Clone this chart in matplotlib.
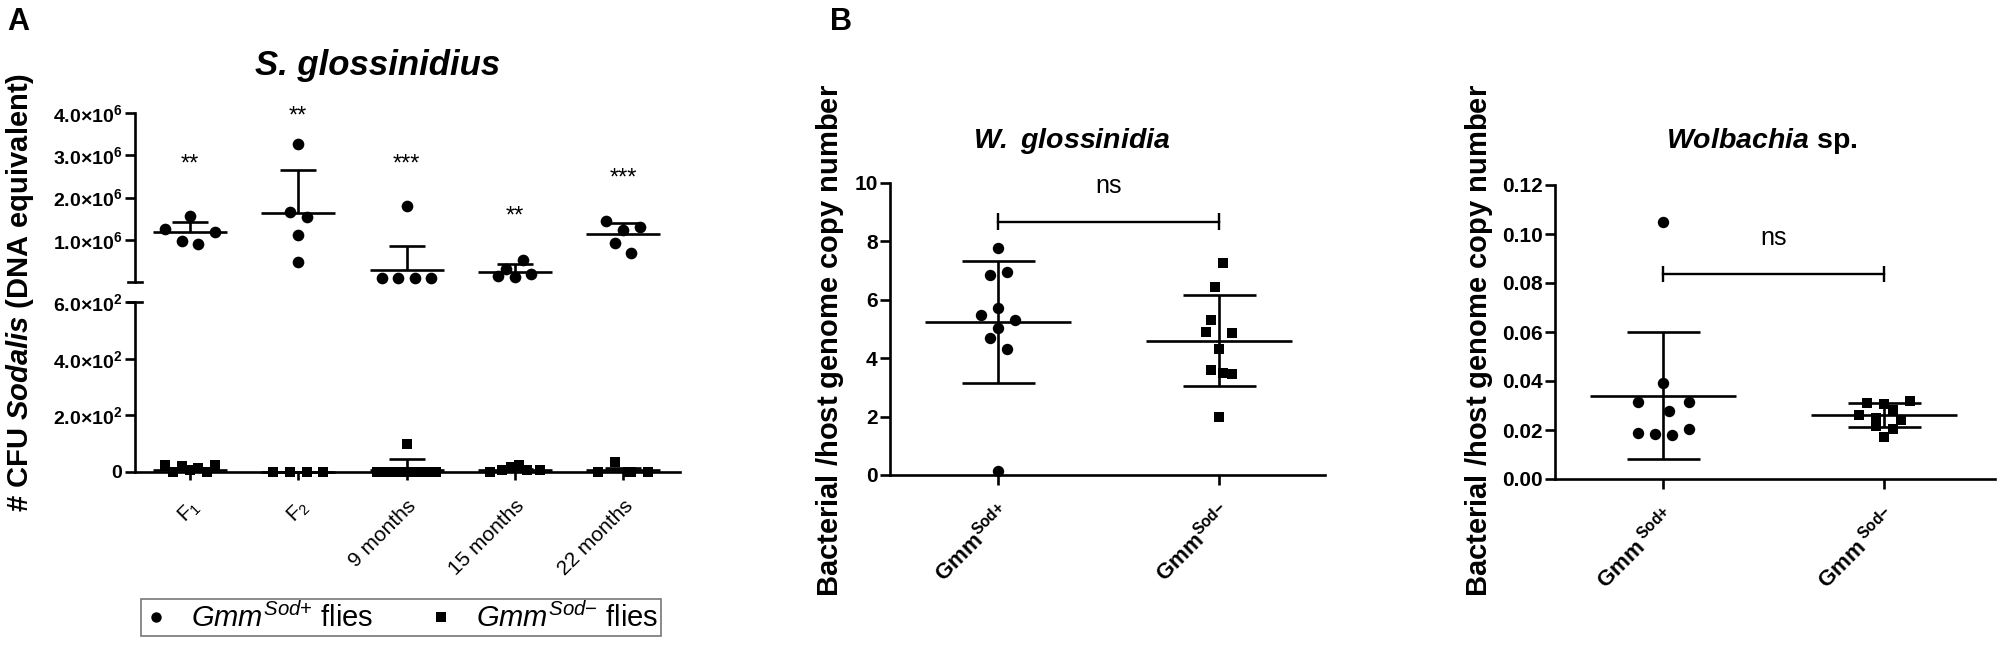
import numpy as np
import matplotlib
matplotlib.use('Agg')
import matplotlib.pyplot as plt
from matplotlib.lines import Line2D

plt.rcParams['font.family'] = ['Liberation Sans', 'DejaVu Sans']
plt.rcParams['mathtext.fontset'] = 'custom'
plt.rcParams['mathtext.rm'] = 'Liberation Sans'
plt.rcParams['mathtext.it'] = 'Liberation Sans:italic'
plt.rcParams['mathtext.bf'] = 'Liberation Sans:bold'
plt.rcParams['mathtext.bfit'] = 'Liberation Sans:italic:bold'
plt.rcParams['mathtext.sf'] = 'Liberation Sans'

# ---------------- data: panel A (S. glossinidius CFU) ----------------
timepoints = ['F$_1$', 'F$_2$', '9 months', '15 months', '22 months']
# Gmm Sod+ (x 10^6)
sodpos_cfu = [[1.56, 1.26, 1.18, 0.97, 0.90],
              [3.27, 1.66, 1.54, 1.11, 0.47],
              [1.81, 0.09, 0.09, 0.09, 0.09],
              [0.52, 0.31, 0.19, 0.14, 0.12],
              [1.45, 1.30, 1.23, 0.92, 0.69]]
sodpos_mean = [1.18, 1.63, 0.28, 0.24, 1.14]
sodpos_sem_top = [1.42, 2.65, 0.85, 0.43, 1.40]
# Gmm Sod- (CFU)
sodneg_cfu = [[26, 0, 20, 8, 15, 0, 26],
              [0, 0, 0, 0],
              [100, 0, 0, 0, 0, 0, 0, 0, 0],
              [0, 8, 19, 24, 8, 8],
              [0, 0, 37, 0, 0]]
sodneg_mean = [8, 0, 8, 6, 7]
sodneg_sem_top = [12, 0, 47, 11, 15]
stars = ['**', '**', '***', '**', '***']
stars_y = [2.94, 4.08, 2.96, 1.71, 2.61]   # x 10^6

# ---------------- data: panel B ----------------
b_groups = ['Sod+', 'Sod-']
wg_sodpos = [7.79, 6.96, 6.86, 5.73, 5.49, 5.32, 5.04, 4.70, 4.32, 0.15]
wg_sodneg = [7.25, 6.45, 5.30, 4.90, 4.85, 4.30, 3.60, 3.50, 3.45, 2.00]
wg_mean = [5.25, 4.60]
wg_sd = [2.09, 1.55]
wg_bracket_y = 8.68
wg_ns_y = 9.9

wb_sodpos = [0.105, 0.039, 0.0316, 0.0314, 0.0279, 0.0203, 0.0187, 0.0182, 0.0180]
wb_sodneg = [0.032, 0.031, 0.0305, 0.028, 0.026, 0.025, 0.024, 0.0215, 0.0205, 0.017]
wb_mean = [0.0339, 0.0261]
wb_sd = [0.0259, 0.0049]
wb_bracket_y = 0.0837
wb_ns_y = 0.0984

# ---------------- layout (jitter in marker-step units) ----------------
off_pos_A = [[0, -3, 3, -1, 1], [0, -1, 1, 0, 0], [0, -3, -1, 1, 3],
             [1, -1, 2, -2, 0], [-2, 2, 0, -1, 1]]
off_neg_A = [[-3, -2, -1, 0, 1, 2, 3], [-3, -1, 1, 3], [0, -3.5, -2.5, -1.5, -0.5, 0.5, 1.5, 2.5, 3.5],
             [-3, -1.5, -0.5, 0.5, 1.5, 3], [0.6, -3, -1, 1, 3]]
off_wg_pos = [0, 1, -1, 0, -2, 2, 0, -1, 1, 0]
off_wg_neg = [0.5, -0.5, -1, -1.5, 1.5, 0, -1, 0.5, 1.5, 0]
off_wb_pos = [0, 0, -3, 3, 0.7, 3, -3, -1, 1]
off_wb_neg = [3, -2, 0, 1, -3, -1, 2, -1, 1, 0]

W, H = 2001, 645
fig = plt.figure(figsize=(W / 100, H / 100), dpi=100)


def rect(x0, x1, ytop, ybot):
    return [x0 / W, 1 - ybot / H, (x1 - x0) / W, (ybot - ytop) / H]


LW = 1.9
K = 'black'


def style_axis(ax, left=True, bottom=False):
    for s in ['top', 'right']:
        ax.spines[s].set_visible(False)
    ax.spines['left'].set_visible(left)
    ax.spines['bottom'].set_visible(bottom)
    for s in ['left', 'bottom']:
        ax.spines[s].set_linewidth(LW)
    ax.tick_params(width=LW, length=7, color=K, direction='out')
    ax.patch.set_alpha(0)


def mean_err(ax, x, mean, top, bottom, hw_mean, hw_cap):
    ax.hlines(mean, x - hw_mean, x + hw_mean, color=K, lw=LW, clip_on=False, zorder=4)
    ax.vlines(x, bottom, top, color=K, lw=LW, clip_on=False, zorder=4)
    ax.hlines(top, x - hw_cap, x + hw_cap, color=K, lw=LW, clip_on=False, zorder=4)
    if bottom < mean:
        ax.hlines(bottom, x - hw_cap, x + hw_cap, color=K, lw=LW, clip_on=False, zorder=4)


# ---------------- panel A ----------------
xA0, xA1 = 135, 680
sp = 108.25
xmin = 1 - (190 - xA0) / sp
xmax = 1 + (xA1 - 190) / sp
stepA = 8.3 / sp

axU = fig.add_axes(rect(xA0, xA1, 113, 282))
axL = fig.add_axes(rect(xA0, xA1, 302, 472))
for ax in (axU, axL):
    ax.set_xlim(xmin, xmax)
style_axis(axU, left=True, bottom=False)
style_axis(axL, left=True, bottom=True)
axU.set_ylim(0, 4.0)
axL.set_ylim(0, 600)

axU.set_xticks([])
axU.set_yticks([1, 2, 3, 4])
axU.set_yticklabels([r'$\mathbf{%d.0{\times}10^{6}}$' % v for v in [1, 2, 3, 4]], fontsize=14)
axU.tick_params(axis='y', pad=2)
axL.set_yticks([0, 200, 400, 600])
axL.set_yticklabels([r'$\mathbf{0}$', r'$\mathbf{2.0{\times}10^{2}}$', r'$\mathbf{4.0{\times}10^{2}}$',
                     r'$\mathbf{6.0{\times}10^{2}}$'], fontsize=14)
axL.tick_params(axis='y', pad=2)
xs = np.arange(1, 6)
axL.set_xticks(xs)
axL.set_xticklabels(timepoints, rotation=45, ha='right', rotation_mode='anchor', fontsize=15)
axL.tick_params(axis='x', length=5.5, pad=12)

# break marks
axU.plot([-0.012, 0.012], [0, 0], transform=axU.get_yaxis_transform(), color=K, lw=LW, clip_on=False)
axL.plot([-0.012, 0.012], [600, 600], transform=axL.get_yaxis_transform(), color=K, lw=LW, clip_on=False)

for i, x in enumerate(xs):
    vals = sodpos_cfu[i]
    offs = np.array(off_pos_A[i]) * stepA
    axU.plot(x + offs, vals, 'o', color=K, ms=8.4, mew=0, clip_on=False, zorder=5)
    mean_err(axU, x, sodpos_mean[i], sodpos_sem_top[i], sodpos_mean[i], 37 / sp, 18 / sp)
    axU.annotate(stars[i], (x, stars_y[i]), xytext=(0, -9.5), textcoords='offset points',
                 ha='center', va='baseline', fontsize=17, annotation_clip=False)
    vals = sodneg_cfu[i]
    offs = np.array(off_neg_A[i]) * stepA
    axL.plot(x + offs, vals, 's', color=K, ms=7.6, mew=0, clip_on=False, zorder=5)
    mean_err(axL, x, sodneg_mean[i], sodneg_sem_top[i], sodneg_mean[i], 37 / sp, 18 / sp)

fig.text(20 / W, 1 - 292 / H,
         r'$\mathbf{\#\ CFU\ }\mathbfit{Sodalis}\mathbf{\ (DNA\ equivalent)}$',
         rotation=90, ha='center', va='center', fontsize=21)
fig.text(378 / W, 1 - 75 / H, 'S. glossinidius', ha='center', va='baseline',
         fontsize=25, fontweight='bold', fontstyle='italic')
fig.text(7 / W, 1 - 30 / H, 'A', ha='left', va='baseline', fontsize=22, fontweight='bold')

h1 = Line2D([], [], marker='o', ls='none', color=K, ms=7.5, mew=0)
h2 = Line2D([], [], marker='s', ls='none', color=K, ms=6.5, mew=0)
leg = fig.legend([h1, h2],
                 [r'$\mathit{Gmm}^{\mathit{Sod{+}}}$ flies', r'$\mathit{Gmm}^{\mathit{Sod{-}}}$ flies'],
                 ncol=2, loc='center', mode='expand',
                 bbox_to_anchor=(141 / W, 1 - 638 / H, (661 - 141) / W, 41 / H),
                 frameon=True, fancybox=False, edgecolor='#777777', framealpha=1,
                 fontsize=21, handlelength=0.8, handletextpad=0.8, columnspacing=1.2,
                 borderpad=0.1, borderaxespad=0)
leg.get_frame().set_linewidth(1.2)

# ---------------- panel B ----------------
spB = 221.0
hwm = 73 / spB
hwc = 36.5 / spB
stepB = 8.5 / spB


def panelB(x0, x1, ytop, ybot, ylim, yticks, ytl, pos, neg, offp, offn, mean, sd,
           bracket_y, ns_y, xtl, title, title_x, ylab_x, ms_c, ms_s, tick_family):
    ax = fig.add_axes(rect(x0, x1, ytop, ybot))
    style_axis(ax, left=True, bottom=True)
    ax.set_xlim(1 - 108 / spB, 2 + (x1 - (x0 + 108 + spB)) / spB)
    ax.set_ylim(*ylim)
    ax.set_yticks(yticks)
    ax.set_yticklabels(ytl, fontsize=15, fontweight='bold', family=tick_family)
    ax.tick_params(axis='y', pad=2)
    ax.set_xticks([1, 2])
    ax.set_xticklabels(xtl, rotation=45, ha='right', rotation_mode='anchor', fontsize=16)
    ax.tick_params(axis='x', pad=11)
    ax.plot(1 + np.array(offp) * stepB, pos, 'o', color=K, ms=ms_c, mew=0, clip_on=False, zorder=5)
    ax.plot(2 + np.array(offn) * stepB, neg, 's', color=K, ms=ms_s, mew=0, clip_on=False, zorder=5)
    for j in range(2):
        mean_err(ax, j + 1, mean[j], mean[j] + sd[j], mean[j] - sd[j], hwm, hwc)
    rng = ylim[1] - ylim[0]
    ax.plot([1, 2], [bracket_y, bracket_y], color=K, lw=LW * 0.9, clip_on=False)
    ax.vlines([1, 2], bracket_y - 0.028 * rng, bracket_y + 0.028 * rng, color=K, lw=LW * 0.9, clip_on=False)
    ax.text(1.5, ns_y, 'ns', ha='center', va='center', fontsize=18, family=tick_family)
    fig.text(title_x / W, 1 - 148 / H, title, ha='center', va='baseline', fontsize=20.5)
    fig.text(ylab_x / W, 1 - 340 / H, r'$\mathbf{Bacterial\ /host\ genome\ copy\ number}$',
             rotation=90, ha='center', va='center', fontsize=21)
    return ax


axM = panelB(890, 1325, 183, 475, (0, 10), [0, 2, 4, 6, 8, 10], ['0', '2', '4', '6', '8', '10'],
             wg_sodpos, wg_sodneg, off_wg_pos, off_wg_neg, wg_mean, wg_sd, wg_bracket_y, wg_ns_y,
             [r'$\mathbf{Gmm}^{\mathbf{Sod{+}}}$', r'$\mathbf{Gmm}^{\mathbf{Sod{-}}}$'],
             r'$\mathbfit{W.\ glossinidia}$', 1072, 830, 8.2, 7.4, ['Liberation Sans'])
axR = panelB(1555, 1995, 185, 479, (0, 0.12), [0, 0.02, 0.04, 0.06, 0.08, 0.10, 0.12],
             ['%.2f' % v for v in [0, 0.02, 0.04, 0.06, 0.08, 0.10, 0.12]],
             wb_sodpos, wb_sodneg, off_wb_pos, off_wb_neg, wb_mean, wb_sd, wb_bracket_y, wb_ns_y,
             [r'$\mathbf{Gmm}^{\mathbf{\ Sod{+}}}$', r'$\mathbf{Gmm}^{\mathbf{\ Sod{-}}}$'],
             r'$\mathbfit{Wolbachia}\mathbf{\ sp.}$', 1762, 1479, 8.2, 7.4,
             ['Liberation Sans Narrow', 'Liberation Sans'])

fig.text(830 / W, 1 - 30 / H, 'B', ha='left', va='baseline', fontsize=22, fontweight='bold')

fig.savefig('out.png', dpi=100)
